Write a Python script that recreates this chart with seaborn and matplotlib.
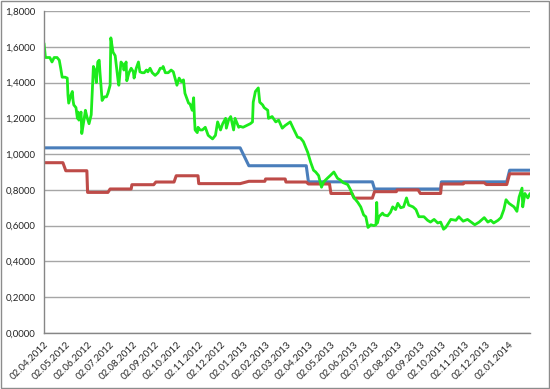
import matplotlib
matplotlib.use("Agg")
import matplotlib.pyplot as plt
import matplotlib.ticker as mticker
import seaborn as sns
import pandas as pd

start_date = "2012-04-02"
end_date = "2014-01-31"

# green series: day offsets from start_date and values
green_day = [0, 2, 6, 8, 11, 14, 18, 21, 23, 25, 29, 32, 33, 34, 37, 39, 40, 41, 44, 46,
             47, 48, 51, 52, 55, 57, 59, 62, 65, 68, 70, 72, 74, 76, 77, 80, 83, 86, 88, 91,
             92, 95, 98, 99, 102, 103, 106, 109, 110, 113, 114, 117, 120, 123, 124, 127, 130, 132, 135, 138,
             141, 143, 146, 149, 153, 157, 160, 163, 164, 167, 171, 175, 178, 181, 183, 186, 189, 192, 194, 199,
             201, 204, 206, 207, 208, 211, 212, 215, 218, 222, 226, 229, 232, 236, 239, 243, 246, 250, 251, 254,
             257, 261, 263, 268, 270, 274, 279, 284, 287, 288, 291, 295, 297, 301, 303, 308, 309, 314, 319, 323,
             328, 332, 339, 343, 349, 353, 357, 363, 367, 371, 374, 378, 382, 385, 390, 394, 399, 404, 408, 412,
             418, 422, 426, 429, 432, 436, 440, 443, 446, 450, 454, 457, 458, 459, 461, 466, 468, 473, 477, 480,
             484, 487, 491, 495, 499, 502, 508, 512, 516, 523, 528, 532, 537, 542, 546, 550, 553, 560, 567, 571,
             577, 583, 588, 593, 599, 606, 611, 615, 619, 625, 629, 633, 636, 640, 647, 651, 654, 658, 659, 662,
             666, 669]
green_val = [1.62, 1.54, 1.54, 1.54, 1.515, 1.54, 1.54, 1.525, 1.48, 1.43, 1.43, 1.425, 1.33, 1.285, 1.33, 1.35, 1.30, 1.275, 1.26, 1.20,
             1.235, 1.19, 1.235, 1.115, 1.19, 1.245, 1.21, 1.17, 1.22, 1.49, 1.47, 1.40, 1.515, 1.525, 1.46, 1.30, 1.32, 1.32, 1.34, 1.385,
             1.65, 1.57, 1.55, 1.515, 1.41, 1.385, 1.515, 1.50, 1.47, 1.515, 1.41, 1.455, 1.48, 1.46, 1.425, 1.48, 1.515, 1.46, 1.455, 1.455,
             1.47, 1.46, 1.48, 1.455, 1.44, 1.455, 1.48, 1.48, 1.49, 1.455, 1.455, 1.47, 1.46, 1.415, 1.385, 1.425, 1.405, 1.415, 1.34, 1.285,
             1.28, 1.245, 1.315, 1.21, 1.135, 1.12, 1.15, 1.135, 1.135, 1.15, 1.105, 1.095, 1.085, 1.105, 1.18, 1.135, 1.17, 1.20, 1.145, 1.19,
             1.21, 1.135, 1.20, 1.15, 1.155, 1.15, 1.16, 1.17, 1.18, 1.29, 1.35, 1.37, 1.29, 1.275, 1.26, 1.245, 1.20, 1.21, 1.18, 1.19,
             1.145, 1.16, 1.18, 1.145, 1.095, 1.09, 1.07, 1.01, 0.955, 0.91, 0.90, 0.88, 0.815, 0.845, 0.865, 0.88, 0.90, 0.865, 0.855, 0.84,
             0.83, 0.80, 0.76, 0.745, 0.73, 0.705, 0.66, 0.65, 0.59, 0.605, 0.60, 0.605, 0.73, 0.615, 0.65, 0.67, 0.66, 0.655, 0.675, 0.705,
             0.69, 0.725, 0.70, 0.705, 0.755, 0.715, 0.705, 0.69, 0.65, 0.65, 0.63, 0.62, 0.635, 0.615, 0.62, 0.58, 0.59, 0.635, 0.63, 0.65,
             0.625, 0.635, 0.62, 0.605, 0.62, 0.645, 0.62, 0.63, 0.615, 0.63, 0.645, 0.69, 0.745, 0.725, 0.705, 0.68, 0.76, 0.81, 0.705, 0.78,
             0.755, 0.78]

blue_date = ["2012-04-02", "2012-12-28", "2013-01-09", "2013-03-29", "2013-04-01", "2013-06-28",
             "2013-07-01", "2013-09-30", "2013-10-01", "2013-12-30", "2014-01-03", "2014-01-31"]
blue_val = [1.035, 1.035, 0.935, 0.935, 0.845, 0.845, 0.805, 0.805, 0.845, 0.845, 0.91, 0.91]

red_date = ["2012-04-02", "2012-04-28", "2012-05-02", "2012-05-31", "2012-06-01", "2012-06-29",
            "2012-07-02", "2012-07-31", "2012-08-01", "2012-08-31", "2012-09-03", "2012-09-28",
            "2012-10-01", "2012-10-31", "2012-11-01", "2012-12-28", "2013-01-09", "2013-01-31",
            "2013-02-01", "2013-02-28", "2013-03-01", "2013-03-29", "2013-04-01", "2013-04-30",
            "2013-05-02", "2013-05-31", "2013-06-03", "2013-06-28", "2013-07-01", "2013-07-31",
            "2013-08-01", "2013-08-30", "2013-09-02", "2013-09-30", "2013-10-01", "2013-10-31",
            "2013-11-01", "2013-11-29", "2013-12-02", "2013-12-30", "2014-01-03", "2014-01-31"]
red_val = [0.952, 0.952, 0.907, 0.907, 0.786, 0.786, 0.805, 0.805, 0.829, 0.829, 0.844, 0.844,
           0.879, 0.879, 0.835, 0.835, 0.848, 0.848, 0.861, 0.861, 0.844, 0.844, 0.833, 0.833,
           0.78, 0.78, 0.754, 0.754, 0.79, 0.79, 0.80, 0.80, 0.78, 0.78, 0.833, 0.833,
           0.84, 0.84, 0.83, 0.83, 0.89, 0.89]

x_tick_labels = ["02.04.2012", "02.05.2012", "02.06.2012", "02.07.2012", "02.08.2012", "02.09.2012",
                 "02.10.2012", "02.11.2012", "02.12.2012", "02.01.2013", "02.02.2013", "02.03.2013",
                 "02.04.2013", "02.05.2013", "02.06.2013", "02.07.2013", "02.08.2013", "02.09.2013",
                 "02.10.2013", "02.11.2013", "02.12.2013", "02.01.2014"]
y_ticks = [0.0, 0.2, 0.4, 0.6, 0.8, 1.0, 1.2, 1.4, 1.6, 1.8]

df_green = pd.DataFrame({"date": pd.Timestamp(start_date) + pd.to_timedelta(green_day, unit="D"),
                         "value": green_val})
df_blue = pd.DataFrame({"date": pd.to_datetime(blue_date), "value": blue_val})
df_red = pd.DataFrame({"date": pd.to_datetime(red_date), "value": red_val})

sns.set_style("white")
plt.rcParams['font.family'] = ['Lato', 'DejaVu Sans']

fig = plt.figure(figsize=(5.5, 3.89), dpi=100)
ax = fig.add_axes([44 / 550, 56 / 389, 486 / 550, 322 / 389])

sns.lineplot(data=df_blue, x="date", y="value", color="#4A7EBB", linewidth=2.2,
             estimator=None, sort=False, ax=ax)
sns.lineplot(data=df_red, x="date", y="value", color="#BE4B48", linewidth=2.2,
             estimator=None, sort=False, ax=ax)
sns.lineplot(data=df_green, x="date", y="value", color="#1CEB1C", linewidth=2.0,
             estimator=None, sort=False, ax=ax)

ax.set_xlim(pd.Timestamp(start_date), pd.Timestamp(end_date))
ax.set_ylim(0, 1.8)
ax.set_yticks(y_ticks)
ax.yaxis.set_major_formatter(mticker.FuncFormatter(lambda v, p: f"{v:.4f}".replace(".", ",")))
ax.set_xticks(pd.to_datetime(x_tick_labels, format="%d.%m.%Y"))
ax.set_xticklabels(x_tick_labels, rotation=45, ha="right", rotation_mode="anchor")

ax.grid(axis="y", color="#a6a6a6", linewidth=1.0)
ax.grid(axis="x", visible=False)
ax.set_axisbelow(True)
for s in ["top", "right"]:
    ax.spines[s].set_visible(False)
for s in ["left", "bottom"]:
    ax.spines[s].set_color("#868686")
    ax.spines[s].set_linewidth(1.0)
ax.tick_params(axis="both", direction="out", length=4, width=0.8, color="#868686",
               labelsize=7, labelcolor="#262626", pad=2)
ax.tick_params(axis="x", pad=1)
ax.set_xlabel("")
ax.set_ylabel("")

fig.add_artist(plt.Rectangle((0.001, 0.002), 0.997, 0.995, transform=fig.transFigure,
                             fill=False, edgecolor="#8c8c8c", linewidth=1.0))

fig.savefig("out.png", dpi=100)
